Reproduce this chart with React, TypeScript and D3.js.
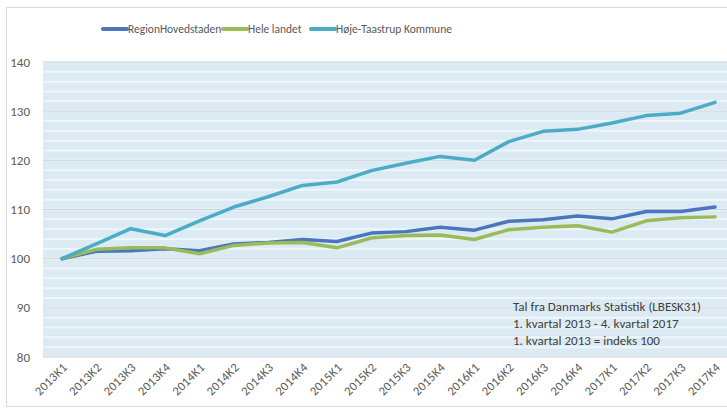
import React from "react";
import * as d3 from "d3";

const categories = [
  "2013K1","2013K2","2013K3","2013K4",
  "2014K1","2014K2","2014K3","2014K4",
  "2015K1","2015K2","2015K3","2015K4",
  "2016K1","2016K2","2016K3","2016K4",
  "2017K1","2017K2","2017K3","2017K4",
];

const regionHovedstaden = [100,101.5,101.6,102.0,101.6,103.0,103.3,103.9,103.5,105.2,105.5,106.4,105.8,107.6,107.9,108.7,108.1,109.6,109.6,110.5];
const heleLandet = [100,101.9,102.2,102.2,101.0,102.7,103.2,103.3,102.2,104.2,104.7,104.8,103.9,105.9,106.4,106.7,105.4,107.7,108.3,108.5];
const hoejeTaastrup = [100,103.0,106.1,104.7,107.7,110.5,112.6,114.9,115.6,117.9,119.4,120.8,120.0,123.8,125.9,126.3,127.6,129.1,129.6,131.8];

const yTicks = [80, 90, 100, 110, 120, 130, 140];
const minorTicks = d3.range(80, 141, 2);

const series = [
  { name: "RegionHovedstaden", values: regionHovedstaden, color: "#4a76bd" },
  { name: "Hele landet", values: heleLandet, color: "#9bbb59" },
  { name: "Høje-Taastrup Kommune", values: hoejeTaastrup, color: "#4bacc6" },
];

const noteLines = [
  "Tal fra Danmarks Statistik (LBESK31)",
  "1. kvartal 2013 - 4. kvartal 2017",
  "1. kvartal 2013 = indeks 100",
];

export default function App() {
  const W = 727, H = 409;
  const plotLeft = 43, plotRight = 740, plotTop = 62, plotBottom = 357;
  const x = d3.scalePoint<string>().domain(categories).range([62, 715]);
  const y = d3.scaleLinear().domain([80, 140]).range([plotBottom, plotTop]);
  const line = d3.line<number>().x((_, i) => x(categories[i]) as number).y((v) => y(v));
  const font = "Calibri, Carlito, 'Liberation Sans Narrow', Lato, 'Open Sans', sans-serif";

  const legendItems = [
    { x: 103, textX: 128 },
    { x: 223, textX: 248 },
    { x: 311, textX: 336 },
  ];

  return (
    <svg width={W} height={H} style={{ position: "absolute", left: 0, top: 0, background: "#fff" }} fontFamily={font}>
      <rect x={6.5} y={7.5} width={W} height={399} fill="#fff" stroke="#d9d9d9" />
      <rect x={plotLeft} y={plotTop} width={plotRight - plotLeft} height={plotBottom - plotTop} fill="#dbeaf3" />
      {minorTicks.map((t) => (
        <line key={"m" + t} x1={plotLeft} x2={plotRight} y1={y(t)} y2={y(t)} stroke="#eef6fa" strokeWidth={2} />
      ))}
      {yTicks.map((t) => (
        <line key={"g" + t} x1={plotLeft} x2={plotRight} y1={y(t)} y2={y(t)} stroke="#cfd6da" strokeWidth={1} />
      ))}
      {yTicks.map((t) => (
        <text key={"t" + t} x={30} y={y(t) + 4.5} textAnchor="end" fontSize={13} fill="#595959">{t}</text>
      ))}
      {categories.map((c) => (
        <text key={c} transform={`translate(${(x(c) as number) + 6},${368}) rotate(-45)`} textAnchor="end" fontSize={12.5} letterSpacing={0.3} fill="#595959">{c}</text>
      ))}
      {series.map((s) => (
        <path key={s.name} d={line(s.values) || ""} fill="none" stroke={s.color} strokeWidth={3.5} strokeLinejoin="round" strokeLinecap="round" />
      ))}
      {series.map((s, i) => (
        <g key={"l" + s.name}>
          <line x1={legendItems[i].x} x2={legendItems[i].x + 24} y1={29} y2={29} stroke={s.color} strokeWidth={4} strokeLinecap="round" />
          <text x={legendItems[i].textX} y={33} fontSize={11.5} fill="#595959">{s.name}</text>
        </g>
      ))}
      {noteLines.map((t, i) => (
        <text key={t} x={513} y={311 + i * 17} fontSize={13} fill="#404040">{t}</text>
      ))}
    </svg>
  );
}
